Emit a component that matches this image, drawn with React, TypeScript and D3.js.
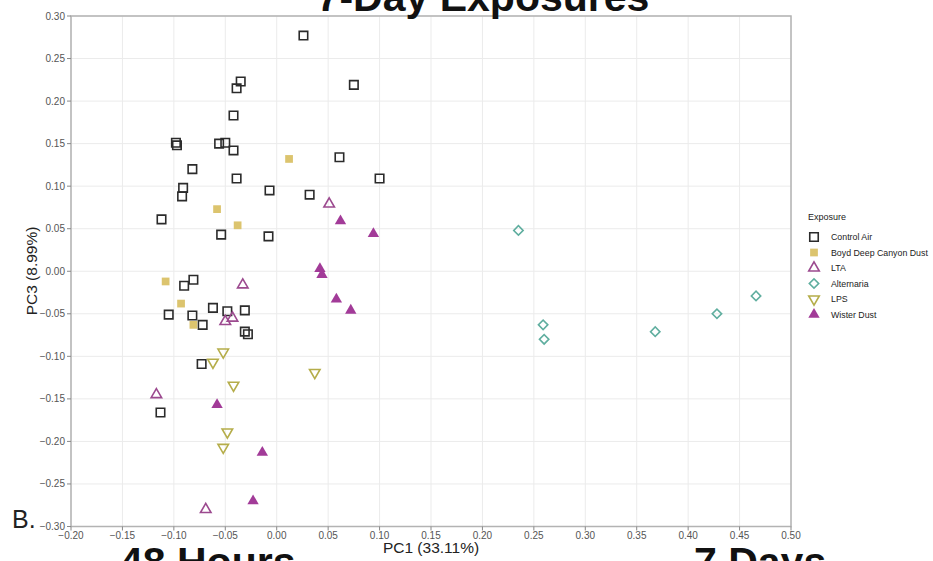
import React from "react";
import * as d3 from "d3";

// PCA scores: [PC1, PC3]
const controlAir: [number, number][] = [
  [0.026, 0.277], [-0.035, 0.223], [-0.039, 0.215], [0.075, 0.219], [-0.042, 0.183],
  [-0.098, 0.151], [-0.097, 0.148], [-0.056, 0.15], [-0.05, 0.151], [-0.042, 0.142],
  [0.061, 0.134], [-0.082, 0.12], [-0.039, 0.109], [0.1, 0.109], [-0.091, 0.098],
  [-0.092, 0.088], [-0.007, 0.095], [0.032, 0.09], [-0.112, 0.061], [-0.054, 0.043],
  [-0.008, 0.041], [-0.09, -0.017], [-0.081, -0.01], [-0.105, -0.051], [-0.082, -0.052],
  [-0.062, -0.043], [-0.048, -0.047], [-0.031, -0.046], [-0.072, -0.063], [-0.031, -0.071],
  [-0.028, -0.074], [-0.073, -0.109], [-0.113, -0.166],
];
const boydDust: [number, number][] = [
  [0.012, 0.132], [-0.058, 0.073], [-0.038, 0.054], [-0.108, -0.012], [-0.093, -0.038],
  [-0.081, -0.063],
];
const lta: [number, number][] = [
  [0.051, 0.079], [-0.033, -0.016], [-0.05, -0.059], [-0.043, -0.055], [-0.117, -0.145],
  [-0.069, -0.28],
];
const alternaria: [number, number][] = [
  [0.235, 0.048], [0.259, -0.063], [0.26, -0.08], [0.368, -0.071], [0.428, -0.05],
  [0.466, -0.029],
];
const lps: [number, number][] = [
  [-0.052, -0.095], [-0.062, -0.107], [0.037, -0.119], [-0.042, -0.134], [-0.048, -0.189],
  [-0.052, -0.207],
];
const wisterDust: [number, number][] = [
  [0.062, 0.059], [0.094, 0.044], [0.042, 0.003], [0.044, -0.004], [0.058, -0.033],
  [0.072, -0.046], [-0.058, -0.157], [-0.014, -0.213], [-0.023, -0.27],
];

const xTicks = [-0.2, -0.15, -0.1, -0.05, 0, 0.05, 0.1, 0.15, 0.2, 0.25, 0.3, 0.35, 0.4, 0.45, 0.5];
const yTicks = [-0.3, -0.25, -0.2, -0.15, -0.1, -0.05, 0, 0.05, 0.1, 0.15, 0.2, 0.25, 0.3];

const font = "'Liberation Sans', Arial, sans-serif";

const sym = (type: d3.SymbolType, size: number) => d3.symbol().type(type).size(size)() || "";

const series = [
  { name: "Control Air", data: controlAir, path: sym(d3.symbolSquare, 72), rot: 0, fill: "none", stroke: "#2b2b2b" },
  { name: "Boyd Deep Canyon Dust", data: boydDust, path: sym(d3.symbolSquare, 60), rot: 0, fill: "#dcc46e", stroke: "none" },
  { name: "LTA", data: lta, path: sym(d3.symbolTriangle, 48), rot: 0, fill: "none", stroke: "#9c4a8f" },
  { name: "Alternaria", data: alternaria, path: sym(d3.symbolSquare, 44), rot: 45, fill: "none", stroke: "#5fae9f" },
  { name: "LPS", data: lps, path: sym(d3.symbolTriangle, 48), rot: 180, fill: "none", stroke: "#b5ad4a" },
  { name: "Wister Dust", data: wisterDust, path: sym(d3.symbolTriangle, 56), rot: 0, fill: "#a23b98", stroke: "none" },
];

export default function App() {
  const x = d3.scaleLinear().domain([-0.2, 0.5]).range([71, 791]);
  const y = d3.scaleLinear().domain([-0.3, 0.3]).range([526.5, 16]);

  return (
    <svg
      width={933}
      height={561}
      style={{ position: "absolute", left: 0, top: 0, background: "#fff" }}
      fontFamily={font}
    >
      {/* grid */}
      {xTicks.map((t) => (
        <line key={"gx" + t} x1={x(t)} x2={x(t)} y1={y(0.3)} y2={y(-0.3)} stroke="#ebebeb" strokeWidth={1} />
      ))}
      {yTicks.map((t) => (
        <line key={"gy" + t} x1={x(-0.2)} x2={x(0.5)} y1={y(t)} y2={y(t)} stroke="#ebebeb" strokeWidth={1} />
      ))}

      {/* frame */}
      <rect x={x(-0.2)} y={y(0.3)} width={x(0.5) - x(-0.2)} height={y(-0.3) - y(0.3)} fill="none" stroke="#b3b3b3" strokeWidth={1.5} />

      {/* ticks */}
      {xTicks.map((t) => (
        <g key={"tx" + t} transform={`translate(${x(t)},${y(-0.3)})`}>
          <line y2={4} stroke="#888" />
          <text y={12} textAnchor="middle" fontSize={10} fill="#555">{d3.format(".2f")(t)}</text>
        </g>
      ))}
      {yTicks.map((t) => (
        <g key={"ty" + t} transform={`translate(${x(-0.2)},${y(t)})`}>
          <line x2={-4} stroke="#888" />
          <text x={-6} dy="0.35em" textAnchor="end" fontSize={10} fill="#555">{d3.format(".2f")(t)}</text>
        </g>
      ))}

      {/* points */}
      {series.map((s) =>
        s.data.map((d, i) => (
          <path
            key={s.name + i}
            d={s.path}
            transform={`translate(${x(d[0])},${y(d[1])}) rotate(${s.rot})`}
            fill={s.fill}
            stroke={s.stroke}
            strokeWidth={1.6}
          />
        ))
      )}

      {/* axis titles */}
      <text x={431} y={553} textAnchor="middle" fontSize={15.5} fill="#222">PC1 (33.11%)</text>
      <text transform="translate(37,271) rotate(-90)" textAnchor="middle" fontSize={15.5} fill="#222">PC3 (8.99%)</text>

      {/* legend */}
      <text x={808} y={220} fontSize={9} fill="#222">Exposure</text>
      {series.map((s, i) => (
        <g key={"lg" + s.name} transform={`translate(814,${237 + i * 15.5})`}>
          <path d={s.path} transform={`rotate(${s.rot})`} fill={s.fill} stroke={s.stroke} strokeWidth={1.6} />
          <text x={17} dy="0.35em" fontSize={8.8} fill="#222">{s.name}</text>
        </g>
      ))}

      {/* surrounding figure text */}
      <text x={483} y={11} textAnchor="middle" fontSize={41} fontWeight="bold" fill="#111">7-Day Exposures</text>
      <text x={12} y={528} fontSize={25} fill="#222">B.</text>
      <text x={120} y={576} fontSize={41} fontWeight="bold" fill="#111">48 Hours</text>
      <text x={694} y={576} fontSize={41} fontWeight="bold" fill="#111">7 Days</text>
    </svg>
  );
}
